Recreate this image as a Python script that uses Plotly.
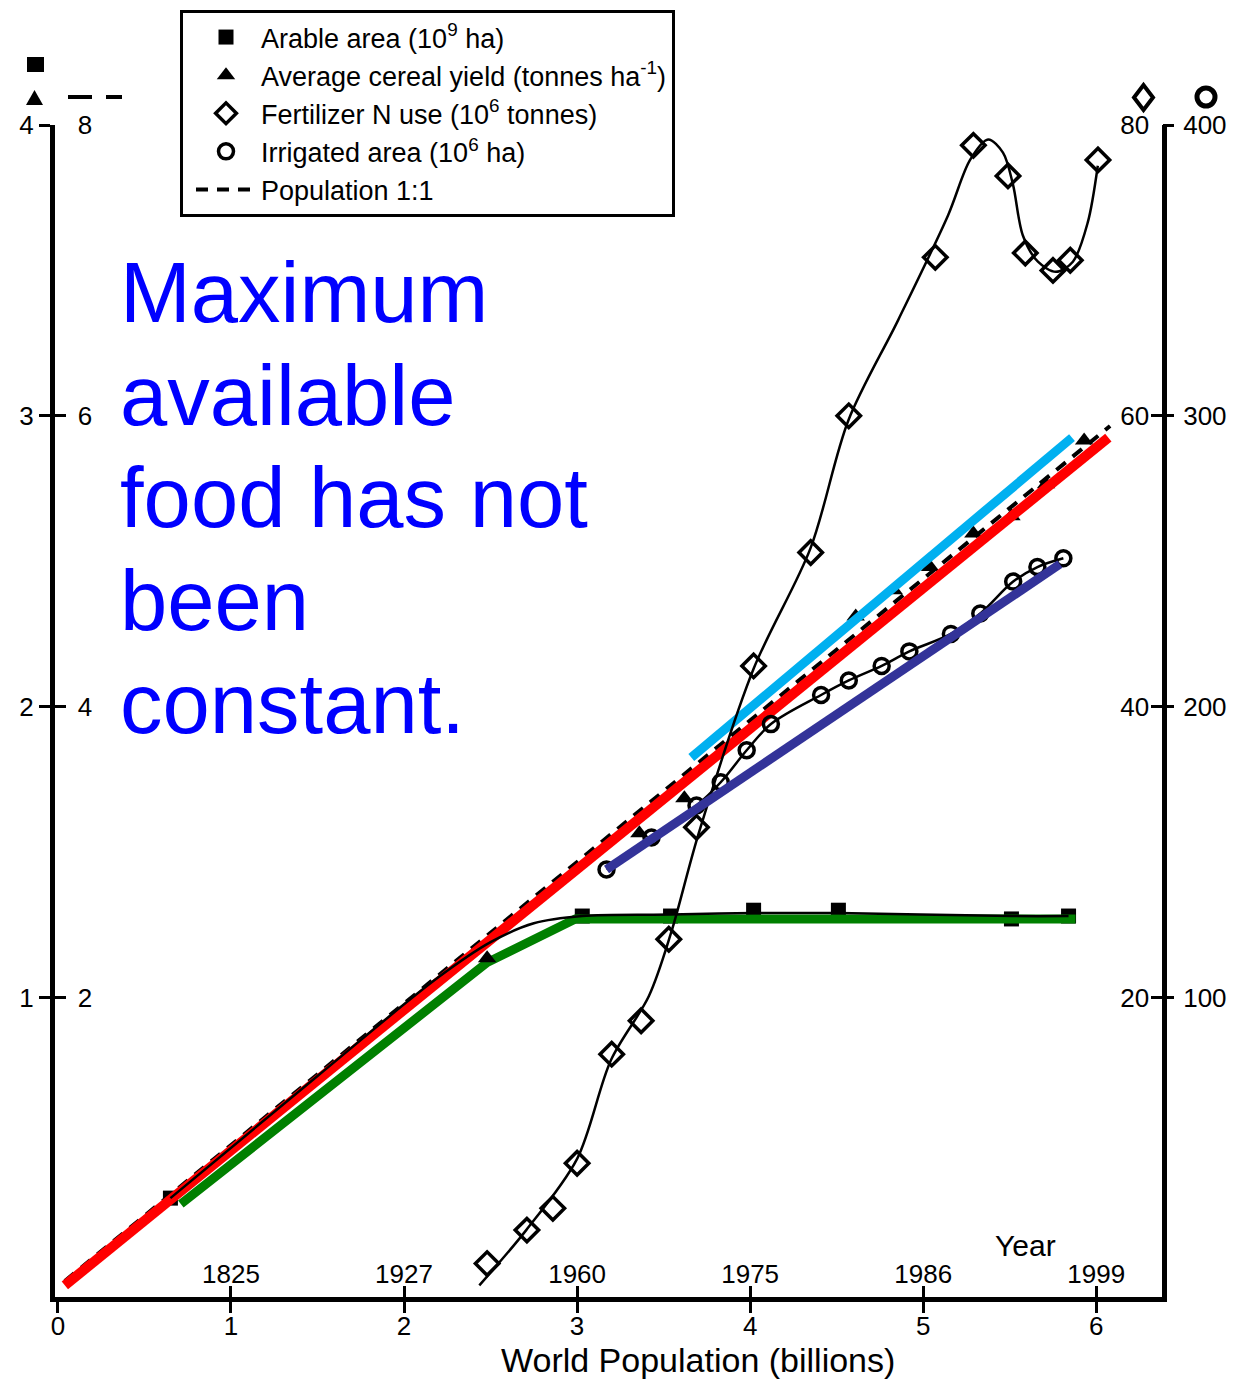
import plotly.graph_objects as go

# ---------------- data ----------------
# x = world population (billions)
arable_x = [0.65, 3.03, 3.54, 4.02, 4.51, 5.51, 5.84]
arable_y = [0.31, 1.28, 1.28, 1.30, 1.30, 1.27, 1.28]            # 10^9 ha
arable_fit_x = [0.65, 1.5, 2.2, 2.5, 2.75, 3.03, 3.54, 4.02, 4.51, 5.51, 5.84]
arable_fit_y = [0.31, 0.73, 1.07, 1.19, 1.255, 1.28, 1.285, 1.29, 1.29, 1.28, 1.28]

yield_x = [2.48, 3.36, 3.62, 4.61, 4.83, 5.04, 5.29, 5.51, 5.71, 5.93]
yield_y = [2.27, 3.13, 3.37, 4.62, 4.80, 4.96, 5.19, 5.31, 5.53, 5.83]  # t/ha

fert_x = [2.48, 2.71, 2.86, 3.00, 3.20, 3.37, 3.53, 3.69, 4.02, 4.35, 4.57,
          5.07, 5.29, 5.49, 5.59, 5.75, 5.85, 6.01]
fert_y = [1.7, 4.0, 5.5, 8.6, 16.1, 18.4, 24.0, 31.7, 42.8, 50.6, 60.0,
          70.9, 78.6, 76.5, 71.2, 70.0, 70.7, 77.6]                   # 10^6 t
fert_fit_x = [2.435, 2.706, 3.000, 3.196, 3.415, 3.542, 3.703, 4.020, 4.349, 4.568,
              4.856, 5.144, 5.271, 5.375, 5.461, 5.519, 5.576, 5.663, 5.767, 5.865,
              5.951, 6.009]
fert_fit_y = [0.2, 4.0, 8.9, 15.7, 20.1, 24.4, 31.3, 42.6, 50.9, 59.7,
              66.6, 73.8, 77.6, 79.0, 78.1, 75.9, 72.4, 70.6, 69.9, 70.6,
              73.3, 77.2]

irrig_x = [3.17, 3.43, 3.69, 3.83, 3.98, 4.12, 4.41, 4.57, 4.76, 4.92, 5.16,
           5.33, 5.52, 5.66, 5.81]
irrig_y = [144, 155, 166, 174, 185, 194, 204, 209, 214, 219, 225,
           232, 243, 248, 251]                                        # 10^6 ha

pop_x = [0.04, 6.08]
pop_y = [0.05, 5.93]          # population 1:1 (on the yield scale)

# coloured highlight lines drawn over the figure
red_x, red_y = [0.04, 6.07], [0.02, 5.85]            # yield scale
cyan_x, cyan_y = [3.66, 5.86], [3.65, 5.85]          # yield scale
navy_x, navy_y = [3.17, 5.79], [144, 249]            # irrigated scale
green_x = [0.71, 2.48, 2.99, 5.88]                   # arable scale
green_y = [0.29, 1.12, 1.27, 1.27]

pop_ticks = [0, 1, 2, 3, 4, 5, 6]
year_ticks = [1, 2, 3, 4, 5, 6]
year_labels = ["1825", "1927", "1960", "1975", "1986", "1999"]
arable_ticks = [1, 2, 3, 4]
yield_ticks = [2, 4, 6, 8]
fert_ticks = [20, 40, 60, 80]
irrig_ticks = [100, 200, 300, 400]

message = ["Maximum", "available", "food has not", "been", "constant."]

# ---------------- layout constants (page pixels) ----------------
W, H = 1249, 1379
OFF = 8                      # default page margin around the plot div
L, R, T, B = 55, 1162, 125, 1297
XR = [-0.017, 6.38]
YR = [-0.03, 4.0]
FONT = "Liberation Sans, Arial, Helvetica, sans-serif"


def px(x):
    return (x - L) / (R - L)


def py(y):
    return (B - y) / (B - T)


fig = go.Figure()

# fitted black curves
fig.add_trace(go.Scatter(x=arable_fit_x, y=arable_fit_y, mode="lines",
                         line=dict(color="black", width=2.5, shape="spline"),
                         showlegend=False, hoverinfo="skip", xaxis="x2", yaxis="y"))
fig.add_trace(go.Scatter(x=fert_fit_x, y=fert_fit_y, mode="lines",
                         line=dict(color="black", width=2.5, shape="spline", smoothing=0.9),
                         showlegend=False, hoverinfo="skip", yaxis="y3"))
fig.add_trace(go.Scatter(x=irrig_x, y=irrig_y, mode="lines",
                         line=dict(color="black", width=2.5, shape="spline"),
                         showlegend=False, hoverinfo="skip", yaxis="y4"))

# markers (legend entries)
fig.add_trace(go.Scatter(x=arable_x, y=arable_y, mode="markers", name="Arable area (10<sup>9</sup> ha)",
                         marker=dict(symbol="square", size=15, color="black"), yaxis="y"))
fig.add_trace(go.Scatter(x=yield_x, y=yield_y, mode="markers",
                         name="Average cereal yield (tonnes ha<sup>-1</sup>)",
                         marker=dict(symbol="triangle-up", size=16, color="black"), yaxis="y2"))
fig.add_trace(go.Scatter(x=fert_x, y=fert_y, mode="markers", name="Fertilizer N use (10<sup>6</sup> tonnes)",
                         marker=dict(symbol="diamond-open", size=18, color="black",
                                     line=dict(width=3.5)), yaxis="y3"))
fig.add_trace(go.Scatter(x=irrig_x, y=irrig_y, mode="markers", name="Irrigated area (10<sup>6</sup> ha)",
                         marker=dict(symbol="circle-open", size=15, color="black",
                                     line=dict(width=3.5)), yaxis="y4"))
fig.add_trace(go.Scatter(x=pop_x, y=pop_y, mode="lines", name="Population 1:1",
                         line=dict(color="black", width=4, dash="12px,9px"), yaxis="y2"))

# coloured highlight lines
fig.add_trace(go.Scatter(x=red_x, y=red_y, mode="lines", line=dict(color="#ff0000", width=10),
                         showlegend=False, hoverinfo="skip", yaxis="y2"))
fig.add_trace(go.Scatter(x=cyan_x, y=cyan_y, mode="lines", line=dict(color="#00b0f0", width=9),
                         showlegend=False, hoverinfo="skip", yaxis="y2"))
fig.add_trace(go.Scatter(x=navy_x, y=navy_y, mode="lines", line=dict(color="#333399", width=9),
                         showlegend=False, hoverinfo="skip", yaxis="y4"))
fig.add_trace(go.Scatter(x=green_x, y=green_y, mode="lines", line=dict(color="#008000", width=9),
                         showlegend=False, hoverinfo="skip", yaxis="y"))

tickfont = dict(family=FONT, size=26, color="black")
common_y = dict(showgrid=False, zeroline=False, ticklen=11, tickwidth=3, tickcolor="black",
                tickfont=tickfont, fixedrange=True)

fig.update_layout(
    width=W - OFF, height=H - OFF,
    margin=dict(l=L - OFF, r=W - R, t=T - OFF, b=H - B, autoexpand=False),
    paper_bgcolor="white", plot_bgcolor="white",
    font=dict(family=FONT, color="black"),
    xaxis=dict(range=XR, tickvals=pop_ticks, ticks="outside", ticklen=11, tickwidth=3,
               tickcolor="black", tickfont=tickfont, showgrid=False, zeroline=False,
               showline=True, linewidth=5, linecolor="black", mirror=False,
               ticklabeloverflow="allow", ticklabelstandoff=-9),
    xaxis2=dict(range=XR, overlaying="x", anchor="y", side="bottom", tickvals=year_ticks,
                ticktext=year_labels, ticks="inside", ticklen=11, tickwidth=3, tickcolor="black",
                ticklabelposition="inside", ticklabeloverflow="allow",
                tickfont=dict(family=FONT, size=26, color="black"),
                showgrid=False, zeroline=False, showline=False),
    yaxis=dict(range=YR, tickvals=arable_ticks, ticks="outside", side="left",
               showline=True, linewidth=5, linecolor="black", ticklabelstandoff=0, **common_y),
    yaxis2=dict(range=[v * 2 for v in YR], tickvals=yield_ticks, ticks="inside",
                overlaying="y", side="left", anchor="x", ticklabelposition="inside",
                ticklabeloverflow="allow", showline=False, ticklabelstandoff=14, **common_y),
    yaxis3=dict(range=[v * 20 for v in YR], tickvals=fert_ticks, ticks="inside",
                overlaying="y", side="right", anchor="x", ticklabelposition="inside",
                ticklabeloverflow="allow", ticklabelstandoff=4,
                showline=True, linewidth=5, linecolor="black", **common_y),
    yaxis4=dict(range=[v * 100 for v in YR], tickvals=irrig_ticks, ticks="outside",
                overlaying="y", side="right", anchor="x", showline=False,
                ticklabelstandoff=4, **common_y),
    legend=dict(x=px(180), y=py(10), xanchor="left", yanchor="top",
                bgcolor="white", bordercolor="black", borderwidth=3,
                font=dict(family=FONT, size=27, color="black"),
                tracegroupgap=0, itemwidth=60, indentation=8),
    showlegend=True,
)

# big blue message
baselines = [322, 425, 527, 630, 733]
for line, base in zip(message, baselines):
    fig.add_annotation(x=px(118), y=py(base - 29.5), xref="paper", yref="paper",
                       text=line, showarrow=False, xanchor="left", yanchor="middle",
                       font=dict(family=FONT, size=85, color="#0000ff"))

# axis titles / labels
fig.add_annotation(x=px(698), y=py(1360), xref="paper", yref="paper",
                   text="World Population (billions)", showarrow=False,
                   xanchor="center", yanchor="middle",
                   font=dict(family=FONT, size=34, color="black"))
fig.add_annotation(x=px(1025), y=py(1245), xref="paper", yref="paper",
                   text="Year", showarrow=False, xanchor="center", yanchor="middle",
                   font=dict(family=FONT, size=30, color="black"))

# series key symbols above the axes
shapes = [
    dict(type="rect", x0=px(27), x1=px(44), y0=py(57), y1=py(72),
         fillcolor="black", line=dict(width=0)),
    dict(type="path", path="M {a},{b} L {c},{b} L {d},{e} Z".format(
        a=px(26), b=py(105), c=px(43), d=px(34.5), e=py(90)),
         fillcolor="black", line=dict(width=0)),
    dict(type="line", x0=px(68), x1=px(122), y0=py(97), y1=py(97),
         line=dict(color="black", width=4, dash="24px,14px")),
    dict(type="path", path="M {a},{m} L {c},{t} L {d},{m} L {c},{b} Z".format(
        a=px(1134), c=px(1143.5), d=px(1153), m=py(97.5), t=py(85), b=py(110)),
         line=dict(color="black", width=4)),
    dict(type="circle", x0=px(1197), x1=px(1215), y0=py(88), y1=py(106),
         line=dict(color="black", width=5)),
]
for s in shapes:
    s.update(xref="paper", yref="paper", layer="above")
    fig.add_shape(**s)

fig.write_html("out.html")
